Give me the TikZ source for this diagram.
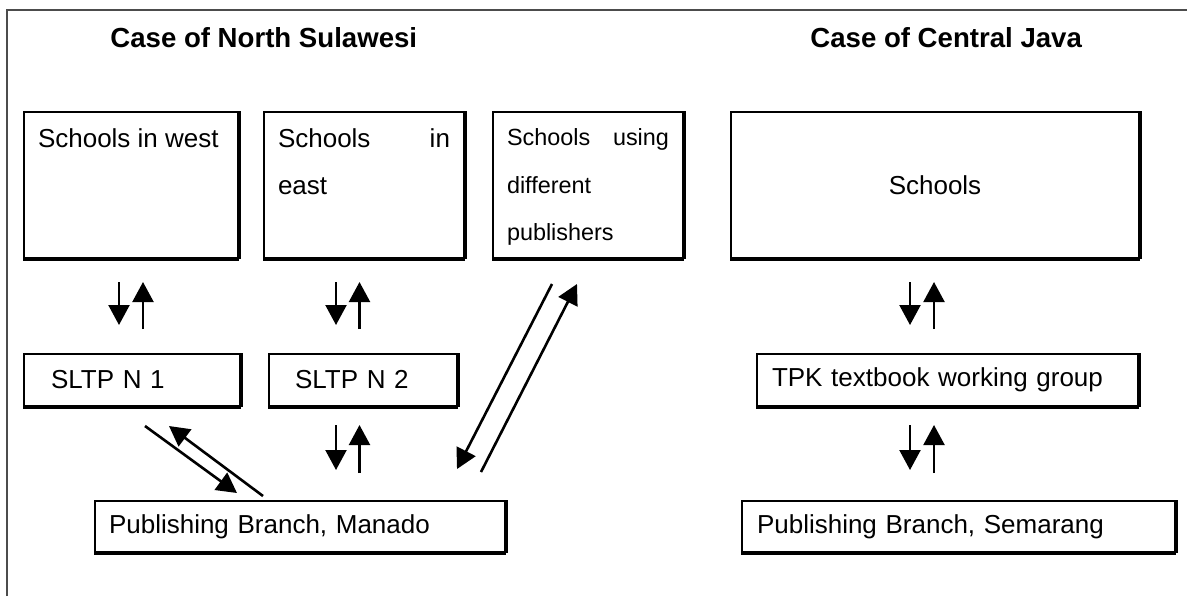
\documentclass[tikz,border=0pt]{standalone}
\usepackage{fontspec}
\setmainfont{Liberation Sans}
\usetikzlibrary{arrows.meta,calc}

\begin{document}
\begin{tikzpicture}[x=0.5pt,y=-0.5pt,>={Triangle[length=10pt,width=10.5pt]},
    box/.style={draw,line width=1pt,anchor=north west,font=\fontsize{13}{23.5}\selectfont,
      append after command={(\tikzlastnode.south west) edge[-,line width=1.7pt] (\tikzlastnode.south east)
        (\tikzlastnode.south east) edge[-,line width=1.7pt] (\tikzlastnode.north east)}},
    school/.style={box,inner xsep=7pt,inner ysep=8.5pt},
    unit/.style={box,minimum height=26pt,align=left},
    title/.style={anchor=base west,inner sep=0pt,font=\fontsize{13.8}{16}\selectfont\bfseries},
    flow/.style={->,line width=1.1pt}]
    \useasboundingbox (0,0) rectangle (1187,596);
    \draw[gray!60!black,line width=0.8pt] (7,596) -- (7,10) -- (1187,10);

    \node[title] (nstitle) at (110,47) {Case of North Sulawesi};
    \node[title] (cjtitle) at (810,47) {Case of Central Java};

    \node[school] (west) at (23,111) {\parbox[t][56pt][t]{93pt}{Schools in west}};
    \node[school] (east) at (263,111) {\parbox[t][56pt][t]{86pt}{Schools\hfill in\\east}};
    \node[school,font=\fontsize{11.7}{23.75}\selectfont] (publ) at (492,111) {\parbox[t][56pt][t]{81pt}{Schools\hfill using\\different\\publishers}};
    \node[box,minimum width=204pt,minimum height=73pt] (cjschools) at (730,111) {Schools};

    \node[unit,inner xsep=13.5pt,text width=81pt] (sltpone) at (23,353) {SLTP N 1};
    \node[unit,inner xsep=13pt,text width=68pt] (sltptwo) at (268,353) {SLTP N 2};
    \node[unit,inner xsep=7.5pt,text width=175.5pt] (tpk) at (756,353) {TPK textbook working group};
    \node[unit,minimum height=25.5pt,inner xsep=7pt,text width=191pt] (manado) at (94,500) {Publishing Branch, Manado};
    \node[unit,minimum height=25.5pt,inner xsep=7.5pt,text width=201.5pt] (semarang) at (741,500) {Publishing Branch, Semarang};

    % schools <-> working groups
    \path[flow]
        ([xshift=-6pt]west.south) edge[shorten <=11.5pt,shorten >=14pt] ([xshift=-6pt]west.south |- sltpone.north)
        ([xshift=6pt]west.south |- sltpone.north) edge[shorten <=12pt,shorten >=11.5pt] ([xshift=6pt]west.south)
        ([xshift=-14pt]east.south) edge[shorten <=11.5pt,shorten >=14pt] ([xshift=-14pt]east.south |- sltptwo.north)
        ([xshift=-2.25pt]east.south |- sltptwo.north) edge[shorten <=12pt,shorten >=11.5pt] ([xshift=-2.25pt]east.south)
        ([xshift=-12.5pt]cjschools.south) edge[shorten <=11.5pt,shorten >=14pt] ([xshift=-12.5pt]cjschools.south |- tpk.north)
        ([xshift=-0.5pt]cjschools.south |- tpk.north) edge[shorten <=12pt,shorten >=11.5pt] ([xshift=-0.5pt]cjschools.south)
    ;

    % working groups <-> publishing branches
    \path[flow]
        ([xshift=-13.5pt]sltptwo.south) edge[shorten <=9pt,shorten >=15pt] ([xshift=-13.5pt]sltptwo.south |- manado.north)
        ([xshift=-1.75pt]sltptwo.south |- manado.north) edge[shorten <=13.5pt,shorten >=9pt] ([xshift=-1.75pt]sltptwo.south)
        ([xshift=-18.75pt]tpk.south) edge[shorten <=9pt,shorten >=15pt] ([xshift=-18.75pt]tpk.south |- semarang.north)
        ([xshift=-6.75pt]tpk.south |- semarang.north) edge[shorten <=13.5pt,shorten >=9pt] ([xshift=-6.75pt]tpk.south)
    ;

    % diagonal links
    \path[flow,line width=1.3pt]
        ($(sltpone.south east)+(-96,19)$) edge ($(manado.north west)+(143,-7)$)
        ($(manado.north west)+(169,-4)$) edge ($(sltpone.south east)+(-72,19)$)
        ($(publ.south west)+(60,25)$) edge ($(manado.north east)+(-49,-31)$)
        ($(manado.north east)+(-25,-28)$) edge ($(publ.south west)+(85,25)$)
    ;
\end{tikzpicture}
\end{document}
